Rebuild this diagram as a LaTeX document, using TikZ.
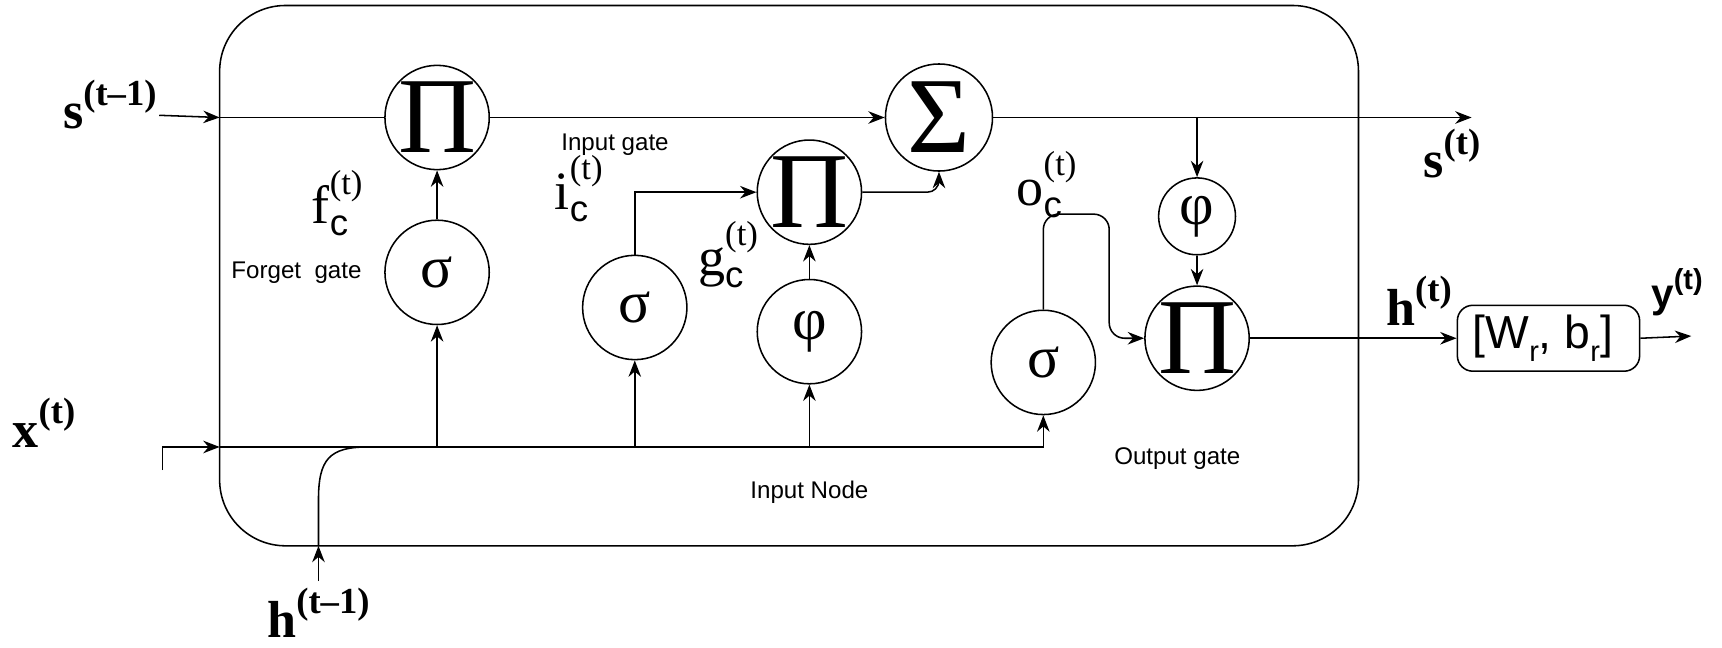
\documentclass[tikz,border=0pt]{standalone}
\usepackage{fontspec}
\setmainfont{Liberation Serif}
\newfontfamily\lsans{Liberation Sans}
\usepackage{tikz}
\usetikzlibrary{arrows.meta}
\usetikzlibrary{positioning,calc}
\tikzset{
  opunit/.style={draw,circle,inner sep=0pt,minimum size=1.9cm},
  smallunit/.style={draw,circle,inner sep=0pt,minimum size=1.4cm},
  conn/.style={-{Stealth[length=8.5pt,width=6.5pt]}},
  gtext/.style={font=\lsans\fontsize{12.5}{14}\selectfont},
  vlbl/.style={font=\fontsize{27}{30}\selectfont\bfseries},
  glbl/.style={font=\fontsize{28}{30}\selectfont},
}
\newcommand{\bigop}[1]{{\fontsize{56}{56}\selectfont #1}}
\newcommand{\actsym}[1]{{\fontsize{31}{31}\selectfont #1}}
\newcommand{\vsup}[2]{#1\raisebox{0.45em}{\fontsize{19}{19}\selectfont #2}}
\newcommand{\gatelbl}[1]{#1\rlap{\raisebox{-0.22em}{\lsans\fontsize{19}{19}\selectfont c}}%
  \raisebox{0.55em}{\fontsize{18}{18}\selectfont(t)}}

\begin{document}
\begin{tikzpicture}[x=0.02cm,y=-0.02cm,line width=0.8pt]
  \useasboundingbox (0,0) rectangle (1568,590);
  % cell
  \draw[rounded corners=1.2cm] (200,5) rectangle (1237,497);

  % operators
  \node[opunit,label=center:{\bigop{Π}}] (prodf) at (398,107) {};
  \node[opunit,minimum size=1.95cm,label=center:{\bigop{Σ}}] (sumc) at (855,107) {};
  \node[opunit,label=center:{\bigop{Π}}] (prodi) at (737,175) {};
  \node[opunit,label=center:{\bigop{Π}}] (prodo) at (1090,308) {};
  % activations
  \node[opunit,label=center:{\actsym{σ}}] (sigf) at (398,248) {};
  \node[opunit,label=center:{\actsym{σ}}] (sigi) at (578,280) {};
  \node[opunit,label=center:{\actsym{φ}}] (phic) at (737,302) {};
  \node[opunit,label=center:{\actsym{σ}}] (sigo) at (950,330) {};
  \node[smallunit,label=center:{\actsym{φ}}] (phio) at (1090,197) {};

  \node[draw,rounded corners=8pt,minimum width=3.32cm,minimum height=1.2cm,
    text width=2.76cm,align=flush left,
    font=\lsans\fontsize{24}{26}\selectfont] (wbox) at (1410,308)
    {[W\raisebox{-0.3em}{\fontsize{15}{15}\selectfont r}, b\raisebox{-0.3em}{\fontsize{15}{15}\selectfont r}]};

  % values
  \node[vlbl] (sprev) at (100,95) {\vsup{s}{(t--1)}};
  \node[vlbl] (snext) at (1322,140) {\vsup{s}{(t)}};
  \node[vlbl] (xcur) at (40,385) {\vsup{x}{(t)}};
  \node[vlbl] (hprev) at (290,558) {\vsup{h}{(t--1)}};
  \node[vlbl] (hcur) at (1292,274) {\vsup{h}{(t)}};
  \node[font=\lsans\bfseries\fontsize{21}{24}\selectfont] (ycur) at (1527,266)
    {\vsup{y}{\lsans\bfseries\fontsize{15}{15}\selectfont(t)}};

  % gate labels
  \node[glbl] (flbl) at (307,185) {\gatelbl{f}};
  \node[glbl] (ilbl) at (527,172) {\gatelbl{i}};
  \node[glbl] (glbl) at (663,232) {\gatelbl{g}};
  \node[glbl] (olbl) at (953,168) {\gatelbl{o}};
  \node[gtext] (ftxt) at (270,248) {Forget\ \ gate};
  \node[gtext] (itxt) at (560,132) {Input gate};
  \node[gtext] (ntxt) at (737,448) {Input Node};
  \node[gtext] (otxt) at (1072,418) {Output gate};

  % cell state
  \coordinate (sin) at (145,105);
  \coordinate (sbox) at (200,107);
  \coordinate (sout) at (1340,107);
  \draw[conn] (sin) -- (sbox);
  \draw (sbox) -- (prodf.west);
  \draw[conn] (prodf) -- (sumc);
  \draw[conn] (sumc) -- (sout);
  \draw[conn] (phio.north |- sumc) -- (phio);
  \draw[conn] (phio) -- (prodo);

  % input line
  \coordinate (xin) at (148,428);
  \coordinate (xbox) at (200,407);
  \draw[conn] (xin) |- (xbox);
  \draw[conn] (xbox) -| (sigo.south);
  \foreach \g in {sigf,sigi,phic}
    \draw[conn] (\g.south |- xbox) -- (\g.south);
  \coordinate (hbox) at (290,497);
  \draw[conn] (hprev.north) -- (hbox);
  \draw (hbox) -- (290,455) .. controls (290,418) and (300,407) .. (335,407);

  % gates
  \draw[conn] (sigf) -- (prodf);
  \draw[conn] (sigi.north) |- (prodi.west);
  \draw[conn] (phic) -- (prodi);
  \draw[conn,rounded corners=6pt] (prodi.east) -| (sumc.south);
  \draw[conn,rounded corners=8pt] (sigo.north) -- (950,195) -- (1010,195)
    -- (1010,308) -- (prodo.west);
  \draw[conn] (prodo) -- (wbox.west);
  \coordinate (yout) at (1540,306);
  \draw[conn] (wbox.east) -- (yout);
\end{tikzpicture}
\end{document}
